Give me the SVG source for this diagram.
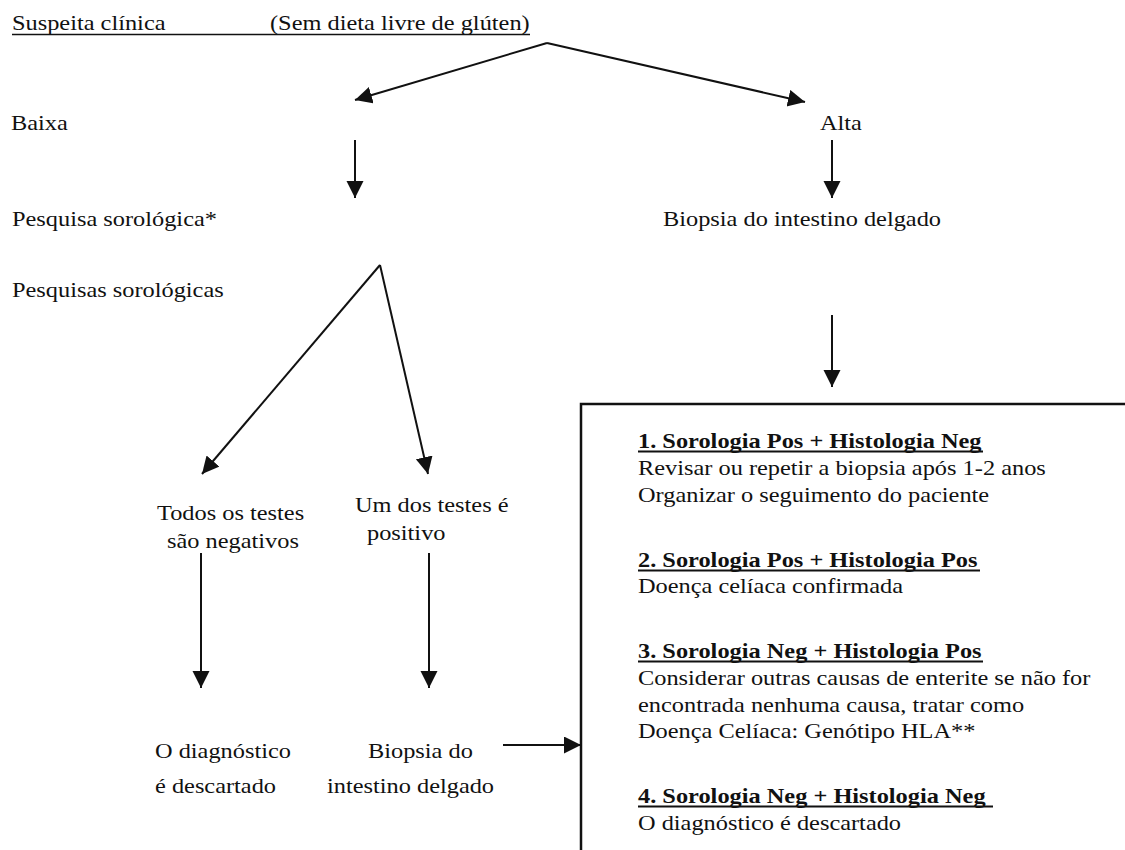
<svg xmlns="http://www.w3.org/2000/svg" width="1125" height="850" viewBox="0 0 1125 850">
<style>
text{font-family:"Liberation Serif","Times New Roman",serif;font-size:21px;fill:#111}
.b{font-weight:bold}
.u{stroke:#111;stroke-width:2.2}
.c{stroke:#111;stroke-width:2;fill:none}
</style>
<defs>
<marker id="ah" markerUnits="userSpaceOnUse" markerWidth="18" markerHeight="18" refX="17" refY="8.5" orient="auto">
<path d="M0,0 L17,8.5 L0,17 z" fill="#111"/>
</marker>
</defs>
<rect width="1125" height="850" fill="#fff"/>
<g id="n-suspeita">
<text transform="translate(12,30) scale(1.16,1)">Suspeita clínica</text>
<text transform="translate(270,30) scale(1.16,1)">(Sem dieta livre de glúten)</text>
<line x1="12" y1="34.5" x2="530" y2="34.5" stroke="#111" stroke-width="1.3"/>
</g>
<g id="n-baixa"><text transform="translate(11,130) scale(1.16,1)">Baixa</text></g>
<g id="n-alta"><text transform="translate(820,130) scale(1.16,1)">Alta</text></g>
<g id="n-pesquisa"><text transform="translate(12,226) scale(1.16,1)">Pesquisa sorológica*</text></g>
<g id="n-biopsia1"><text transform="translate(663,226) scale(1.16,1)">Biopsia do intestino delgado</text></g>
<g id="n-pesquisas"><text transform="translate(12,297) scale(1.16,1)">Pesquisas sorológicas</text></g>
<g id="n-todos">
<text transform="translate(157,520) scale(1.16,1)">Todos os testes</text>
<text transform="translate(167,548) scale(1.16,1)">são negativos</text>
</g>
<g id="n-um">
<text transform="translate(355,512) scale(1.16,1)">Um dos testes é</text>
<text transform="translate(367,540) scale(1.16,1)">positivo</text>
</g>
<g id="n-descartado">
<text transform="translate(155,758) scale(1.16,1)">O diagnóstico</text>
<text transform="translate(155,793) scale(1.16,1)">é descartado</text>
</g>
<g id="n-biopsia2">
<text transform="translate(368,758) scale(1.16,1)">Biopsia do</text>
<text transform="translate(327,793) scale(1.16,1)">intestino delgado</text>
</g>
<g id="n-box">
<rect x="581" y="404" width="600" height="500" fill="none" stroke="#111" stroke-width="2.5"/>
<text class="b" transform="translate(638,448) scale(1.16,1)">1. Sorologia Pos + Histologia Neg</text>
<line class="u" x1="638" y1="451.5" x2="983" y2="451.5"/>
<text transform="translate(638,475) scale(1.16,1)">Revisar ou repetir a biopsia após 1-2 anos</text>
<text transform="translate(638,502) scale(1.16,1)">Organizar o seguimento do paciente</text>
<text class="b" transform="translate(638,567) scale(1.16,1)">2. Sorologia Pos + Histologia Pos</text>
<line class="u" x1="638" y1="570.5" x2="980" y2="570.5"/>
<text transform="translate(638,593) scale(1.16,1)">Doença celíaca confirmada</text>
<text class="b" transform="translate(638,658) scale(1.16,1)">3. Sorologia Neg + Histologia Pos</text>
<line class="u" x1="638" y1="661.5" x2="983" y2="661.5"/>
<text transform="translate(638,685) scale(1.16,1)">Considerar outras causas de enterite se não for</text>
<text transform="translate(638,712) scale(1.16,1)">encontrada nenhuma causa, tratar como</text>
<text transform="translate(638,738) scale(1.16,1)">Doença Celíaca: Genótipo HLA**</text>
<text class="b" transform="translate(638,803) scale(1.16,1)">4. Sorologia Neg + Histologia Neg</text>
<line class="u" x1="638" y1="806.5" x2="993" y2="806.5"/>
<text transform="translate(638,830) scale(1.16,1)">O diagnóstico é descartado</text>
</g>
<g id="connectors" class="c">
<path d="M547,43 L355,100" marker-end="url(#ah)"/>
<path d="M547,43 L805,102" marker-end="url(#ah)"/>
<path d="M355,140 L355,198" marker-end="url(#ah)"/>
<path d="M832,140 L832,198" marker-end="url(#ah)"/>
<path d="M380,265 L202,474" marker-end="url(#ah)"/>
<path d="M380,265 L428,474" marker-end="url(#ah)"/>
<path d="M832,315 L832,387" marker-end="url(#ah)"/>
<path d="M201,553 L201,688" marker-end="url(#ah)"/>
<path d="M429,553 L429,688" marker-end="url(#ah)"/>
<path d="M503,745 L581,745" marker-end="url(#ah)"/>
</g>
</svg>
